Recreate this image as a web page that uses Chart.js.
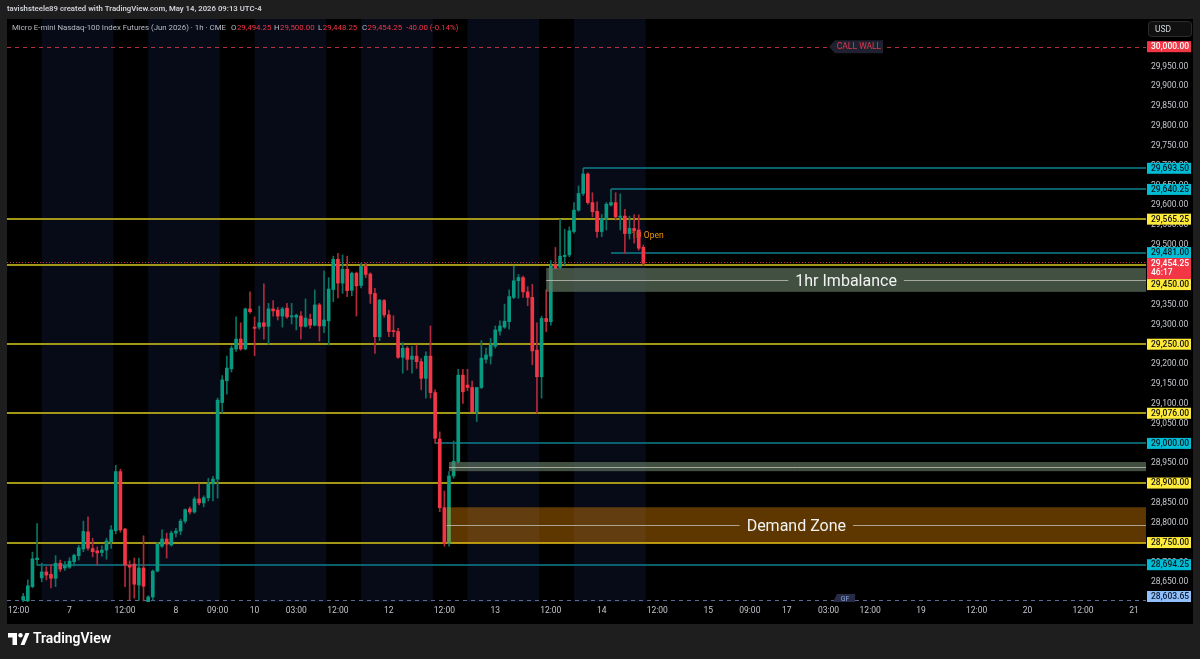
<!DOCTYPE html>
<html>
<head>
<meta charset="utf-8">
<script src="https://cdn.jsdelivr.net/npm/chart.js@4.4.1/dist/chart.umd.min.js"></script>
<style>
  html, body { margin: 0; padding: 0; background: #1e1e1e; }
  #wrap { width: 1200px; height: 659px; }
</style>
</head>
<body>
<div id="wrap"><canvas id="chart" width="1200" height="659"></canvas></div>
<script>
// MNQ1! 1h candles. bar 0 = May 7 00:00, 23 bars per session day
const firstBar = -10;
const opens = [
  28605, 28603, 28639, 28707, 28661, 28676, 28670, 28660, 28698, 28686,
  28688, 28702, 28717, 28734, 28777, 28735, 28729, 28725, 28731, 28752,
  28780, 28929, 28784, 28693, 28696, 28643, 28686, 28600, 28613, 28678,
  28741, 28759, 28744, 28774, 28779, 28804, 28835, 28827, 28860, 28850,
  28863, 28898, 28910, 29103, 29158, 29188, 29238, 29263, 29238, 29339,
  29293, 29293, 29304, 29295, 29339, 29336, 29321, 29341, 29319, 29318,
  29321, 29295, 29313, 29298, 29349, 29296, 29309, 29388, 29464, 29404,
  29439, 29386, 29429, 29398, 29446, 29427, 29378, 29269, 29360, 29324,
  29284, 29282, 29217, 29240, 29212, 29220, 29206, 29164, 29220, 29128,
  29011, 28838, 28748, 28918, 28954, 29172, 29147, 29141, 29080, 29141,
  29212, 29220, 29245, 29283, 29293, 29307, 29368, 29410, 29418, 29382,
  29368, 29235, 29168, 29315, 29307, 29450, 29444, 29471, 29475, 29534,
  29588, 29630, 29679, 29607, 29585, 29534, 29567, 29601, 29607, 29570,
  29573, 29529, 29542, 29538, 29494.25
];
const highs = [
  28622, 28656, 28726, 28798, 28698, 28689, 28695, 28717, 28706, 28702,
  28712, 28721, 28743, 28804, 28815, 28761, 28739, 28742, 28761, 28793,
  28945, 28935, 28786, 28704, 28711, 28711, 28767, 28616, 28681, 28751,
  28782, 28774, 28779, 28786, 28809, 28835, 28840, 28865, 28898, 28868,
  28912, 28917, 29114, 29171, 29220, 29246, 29319, 29304, 29341, 29382,
  29319, 29346, 29402, 29353, 29360, 29343, 29343, 29353, 29353, 29326,
  29332, 29364, 29326, 29387, 29353, 29435, 29418, 29472, 29479, 29475,
  29472, 29432, 29432, 29454, 29454, 29430, 29391, 29363, 29363, 29336,
  29322, 29290, 29254, 29244, 29244, 29248, 29214, 29231, 29296, 29135,
  29029, 28880, 28929, 29006, 29187, 29187, 29187, 29157, 29141, 29259,
  29240, 29265, 29296, 29309, 29351, 29387, 29447, 29426, 29422, 29395,
  29401, 29304, 29321, 29387, 29461, 29494, 29565, 29540, 29546, 29607,
  29649, 29693.5, 29682, 29632, 29609, 29577, 29607, 29640.25, 29632, 29629,
  29590, 29573, 29576, 29576, 29500
];
const lows = [
  28595, 28598, 28636, 28693, 28651, 28656, 28636, 28639, 28677, 28680,
  28685, 28691, 28706, 28727, 28731, 28714, 28693, 28716, 28708, 28735,
  28772, 28776, 28639, 28605, 28610, 28605, 28603, 28590, 28605, 28676,
  28738, 28711, 28741, 28764, 28770, 28799, 28822, 28824, 28845, 28840,
  28855, 28855, 28862, 29077, 29124, 29180, 29232, 29235, 29236, 29328,
  29221, 29288, 29263, 29250, 29321, 29311, 29293, 29315, 29301, 29286,
  29263, 29293, 29290, 29296, 29258, 29279, 29248, 29357, 29367, 29378,
  29370, 29372, 29321, 29392, 29418, 29353, 29227, 29259, 29318, 29269,
  29269, 29214, 29177, 29185, 29177, 29189, 29135, 29114, 29114, 29000,
  28828, 28741, 28741, 28912, 28950, 29101, 29133, 29080, 29055, 29138,
  29202, 29200, 29240, 29273, 29290, 29288, 29365, 29366, 29368, 29347,
  29198, 29076, 29114, 29282, 29298, 29440, 29440, 29450, 29470, 29530,
  29585, 29625, 29603, 29571, 29519, 29521, 29538, 29598, 29563, 29538,
  29479, 29515, 29505, 29487, 29448.25
];
const closes = [
  28614, 28641, 28709, 28711, 28676, 28668, 28660, 28698, 28683, 28692,
  28703, 28718, 28737, 28778, 28736, 28727, 28724, 28731, 28754, 28782,
  28929, 28782, 28693, 28688, 28645, 28686, 28640, 28613, 28678, 28746,
  28759, 28746, 28774, 28779, 28804, 28833, 28827, 28860, 28850, 28863,
  28898, 28910, 29109, 29160, 29190, 29240, 29263, 29238, 29339, 29332,
  29290, 29304, 29295, 29339, 29334, 29321, 29339, 29319, 29321, 29323,
  29295, 29316, 29298, 29349, 29296, 29311, 29389, 29464, 29404, 29439,
  29385, 29429, 29397, 29446, 29426, 29377, 29269, 29361, 29324, 29282,
  29282, 29217, 29240, 29212, 29220, 29206, 29164, 29220, 29128, 29013,
  28838, 28748, 28918, 28955, 29172, 29130, 29141, 29080, 29141, 29215,
  29223, 29248, 29286, 29296, 29308, 29370, 29410, 29418, 29382, 29368,
  29233, 29168, 29315, 29307, 29447, 29441, 29472, 29474, 29536, 29588,
  29630, 29679, 29607, 29584, 29534, 29567, 29603, 29607, 29571, 29573,
  29529, 29542, 29536, 29492, 29454.25
];

// time axis
const tickBars = [-11, 0, 12, 23, 32, 40, 49, 58, 69, 81, 92, 104, 115, 127, 138, 147, 155, 164, 173, 184, 196, 207, 219, 230];
const tickLabels = ['12:00', '7', '12:00', '8', '09:00', '10', '03:00', '12:00', '12', '12:00', '13', '12:00', '14', '12:00', '15', '09:00', '17', '03:00', '12:00', '19', '12:00', '20', '12:00', '21'];
const priceTicks = [28650, 28700, 28750, 28800, 28850, 28900, 28950, 29000, 29050, 29100, 29150, 29200, 29250, 29300, 29350, 29400, 29450, 29500, 29550, 29600, 29650, 29700, 29750, 29800, 29850, 29900, 29950];

// extended-hours session shading (18:00 -> 09:30)
const sessionStart = [-6, 17, 40, 63, 86, 109];
const sessionEnd = [9.5, 32.5, 55.5, 78.5, 101.5, 124.5];

// drawn levels
const yellowLevels = [29565.25, 29450, 29250, 29076, 28900, 28750];
const cyanLevels = [29693.5, 29640.25, 29481, 29000, 28694.25];
const cyanFrom = [111, 117, 117, 79, -7];
const callWall = 30000;
const gammaFlip = 28603.65;
const lastPrice = 29454.25;

// zones
const zoneTop = [29442, 28953, 28839];
const zoneBottom = [29382, 28930, 28748];
const zoneMid = [29412, 28941.5, 28794];
const zoneFrom = [103, 82, 81.5];
const zoneNames = ['1hr Imbalance', '', 'Demand Zone'];

const bars = opens.map((o, k) => firstBar + k);
const up = opens.map((o, k) => closes[k] >= o);

const fmt = (v) => v.toLocaleString('en-US', { minimumFractionDigits: 2, maximumFractionDigits: 2 });

const uiFont = 'Roboto';
const uiSize = 8.5;

function fitFont(ctx, text, width, weight, family) {
  ctx.font = `${weight} 10px ${family}`;
  const size = 10 * width / ctx.measureText(text).width;
  ctx.font = `${weight} ${size.toFixed(2)}px ${family}`;
  return size;
}

function hline(ctx, x0, x1, yy) {
  ctx.beginPath(); ctx.moveTo(x0, yy); ctx.lineTo(x1, yy); ctx.stroke();
}

const tvPlugin = {
  id: 'tv',
  beforeDraw(chart) {
    const { ctx, chartArea: a, scales: { x } } = chart;
    ctx.save();
    ctx.fillStyle = '#1e1e1e';
    ctx.fillRect(0, 0, 1200, 659);
    ctx.fillStyle = '#000000';
    ctx.fillRect(7, 19, 1186, 605);
    ctx.fillStyle = '#070b18';
    sessionStart.forEach((s, k) => {
      const x0 = Math.max(x.getPixelForValue(s), a.left);
      const x1 = x.getPixelForValue(sessionEnd[k]);
      ctx.fillRect(x0, a.top, x1 - x0, a.bottom - a.top);
    });
    ctx.restore();
  },
  beforeDatasetsDraw(chart) {
    const { ctx, chartArea: a, scales: { x, y } } = chart;
    ctx.save();
    ctx.beginPath();
    ctx.rect(a.left, a.top, a.right - a.left, a.bottom - a.top);
    ctx.clip();
    ctx.lineWidth = 1;

    // call wall + gamma flip dashed
    ctx.setLineDash([4, 4]);
    ctx.strokeStyle = '#b8303f';
    hline(ctx, a.left, a.right, Math.round(y.getPixelForValue(callWall)) + 0.5);
    ctx.strokeStyle = '#5b6d94';
    hline(ctx, a.left, a.right, Math.round(y.getPixelForValue(gammaFlip)) - 0.5);

    // last price dotted
    ctx.setLineDash([1, 2]);
    ctx.strokeStyle = '#c93041';
    hline(ctx, a.left, a.right, Math.round(y.getPixelForValue(lastPrice)) - 0.5);
    ctx.setLineDash([]);

    ctx.lineWidth = 2;
    ctx.strokeStyle = '#a39717';
    yellowLevels.forEach((v) => hline(ctx, a.left, a.right, Math.round(y.getPixelForValue(v))));
    ctx.lineWidth = 1.6;
    ctx.strokeStyle = '#0e7f8e';
    cyanLevels.forEach((v, k) => hline(ctx, x.getPixelForValue(cyanFrom[k]), a.right, Math.round(y.getPixelForValue(v))));

    ctx.fillStyle = '#f0940a';
    ctx.font = `${uiSize}px ${uiFont}`;
    ctx.textBaseline = 'middle';
    ctx.fillText('1D Open', x.getPixelForValue(121.4), y.getPixelForValue(29522));
    ctx.restore();
  },
  afterDatasetsDraw(chart) {
    const { ctx, chartArea: a, scales: { x, y } } = chart;
    const fills = ['rgba(100,122,98,0.66)', 'rgba(100,122,98,0.66)', 'rgba(255,150,0,0.37)'];
    ctx.save();
    zoneTop.forEach((t, k) => {
      const x0 = x.getPixelForValue(zoneFrom[k]);
      const y0 = y.getPixelForValue(t);
      const y1 = y.getPixelForValue(zoneBottom[k]);
      ctx.fillStyle = fills[k];
      ctx.fillRect(x0, y0, a.right - x0, y1 - y0);
      const my = Math.round(y.getPixelForValue(zoneMid[k])) + 0.5;
      const cx = (x0 + a.right) / 2;
      ctx.strokeStyle = 'rgba(200,200,190,0.75)';
      ctx.lineWidth = 1;
      if (zoneNames[k]) {
        ctx.font = '16px Roboto';
        const w = ctx.measureText(zoneNames[k]).width;
        hline(ctx, x0, cx - w / 2 - 7, my);
        hline(ctx, cx + w / 2 + 7, a.right, my);
        ctx.fillStyle = '#f2f2f2';
        ctx.textAlign = 'center';
        ctx.textBaseline = 'middle';
        ctx.fillText(zoneNames[k], cx, my + 1);
      } else {
        hline(ctx, x0, a.right, my);
      }
    });
    ctx.restore();
  },
  afterDraw(chart) {
    const { ctx, chartArea: a, scales: { y } } = chart;
    ctx.save();
    ctx.textBaseline = 'middle';

    // top credit line
    const credit = 'tavishsteele89 created with TradingView.com, May 14, 2026 09:13 UTC-4';
    ctx.fillStyle = '#cfd2d8';
    fitFont(ctx, credit, 255, '600', 'Roboto');
    ctx.fillText(credit, 7, 9.5);

    // legend
    const title = 'Micro E-mini Nasdaq-100 Index Futures (Jun 2026) · 1h · CME';
    ctx.fillStyle = '#b8bbc2';
    fitFont(ctx, title, 214, '400', uiFont);
    ctx.fillText(title, 12, 28);
    const parts = [['O', '#b8bbc2', 231], ['29,494.25', '#f23645'], ['H', '#b8bbc2', 274], ['29,500.00', '#f23645'],
      ['L', '#b8bbc2', 318], ['29,448.25', '#f23645'], ['C', '#b8bbc2', 362], ['29,454.25  -40.00 (-0.14%)', '#f23645']];
    let cx = 0;
    parts.forEach((p) => {
      if (p[2]) cx = p[2];
      ctx.fillStyle = p[1];
      ctx.fillText(p[0], cx, 28);
      cx += ctx.measureText(p[0]).width + 0.5;
    });

    // right-side price tags
    const tags = [];
    tags.push({ v: callWall, bg: '#f23645', fg: '#ffffff' });
    cyanLevels.forEach((v) => tags.push({ v, bg: '#00bcd4', fg: '#0a1a20' }));
    yellowLevels.forEach((v) => tags.push({ v, bg: '#ffeb3b', fg: '#111111' }));
    tags.push({ v: gammaFlip, bg: '#90bff9', fg: '#0b1a33' });
    tags.push({ v: lastPrice, bg: '#f23645', fg: '#ffffff', sub: '46:17' });
    tags.forEach((t) => { t.py = y.getPixelForValue(t.v); t.h = t.sub ? 21 : 11; t.top = t.sub ? t.py - 6.5 : t.py - 5.5; });
    tags.sort((p, q) => p.py - q.py);
    let prev = 0;
    tags.forEach((t) => {
      t.top = Math.max(t.top, prev);
      t.top = Math.min(t.top, a.bottom - t.h);
      prev = t.top + t.h;
    });
    ctx.font = `500 ${uiSize}px ${uiFont}`;
    ctx.textAlign = 'left';
    tags.forEach((t) => {
      ctx.fillStyle = t.bg;
      ctx.fillRect(1147, t.top, 44, t.h);
      ctx.fillStyle = t.fg;
      ctx.fillText(fmt(t.v), 1151, t.top + 5.8);
      if (t.sub) ctx.fillText(t.sub, 1151, t.top + 14.8);
    });

    // CALL WALL tag
    const wy = y.getPixelForValue(callWall);
    ctx.fillStyle = '#1f2130';
    ctx.beginPath();
    ctx.moveTo(829, wy); ctx.lineTo(835, wy - 6.5); ctx.lineTo(883, wy - 6.5); ctx.lineTo(883, wy + 6.5); ctx.lineTo(835, wy + 6.5);
    ctx.closePath(); ctx.fill();
    ctx.fillStyle = '#e23a4b';
    ctx.font = `${uiSize}px ${uiFont}`;
    ctx.textAlign = 'center';
    ctx.fillText('CALL WALL', 859, wy + 0.5);

    // GF tag
    ctx.fillStyle = '#262c46';
    ctx.beginPath();
    ctx.moveTo(833, a.bottom); ctx.lineTo(837, a.bottom - 8); ctx.lineTo(855, a.bottom - 8); ctx.lineTo(855, a.bottom);
    ctx.closePath(); ctx.fill();
    ctx.fillStyle = '#8ea6db';
    ctx.font = `7px ${uiFont}`;
    ctx.fillText('GF', 845, a.bottom - 3);

    // USD button
    ctx.fillStyle = '#101010';
    ctx.strokeStyle = '#2c2c2c';
    ctx.beginPath();
    ctx.roundRect(1148.5, 21.5, 43, 15, 3);
    ctx.fill(); ctx.stroke();
    ctx.fillStyle = '#d1d4dc';
    ctx.font = `${uiSize}px ${uiFont}`;
    ctx.textAlign = 'left';
    ctx.fillText('USD', 1155, 29.5);

    // TradingView logo
    ctx.fillStyle = '#ffffff';
    ctx.fillRect(8, 633, 9, 4.5);
    ctx.fillRect(12.5, 633, 4.5, 12);
    ctx.beginPath(); ctx.arc(20.5, 635.3, 2.2, 0, Math.PI * 2); ctx.fill();
    ctx.beginPath();
    ctx.moveTo(20.5, 645); ctx.lineTo(25.5, 633); ctx.lineTo(29.5, 633); ctx.lineTo(24.5, 645);
    ctx.closePath(); ctx.fill();
    fitFont(ctx, 'TradingView', 78, '600', 'Roboto');
    ctx.fillText('TradingView', 33, 639.5);
    ctx.restore();
  }
};

new Chart(document.getElementById('chart'), {
  type: 'bar',
  data: {
    datasets: [
      {
        label: 'body',
        data: bars.map((b, k) => ({ x: b, y: [opens[k], closes[k]] })),
        backgroundColor: up.map((u) => (u ? '#089981' : '#f23645')),
        barThickness: 3,
        minBarLength: 1,
        grouped: false,
        order: 0
      },
      {
        label: 'wick',
        data: bars.map((b, k) => ({ x: b, y: [lows[k], highs[k]] })),
        backgroundColor: up.map((u) => (u ? '#0b7364' : '#b02a3a')),
        barThickness: 1,
        grouped: false,
        order: 1
      }
    ]
  },
  options: {
    responsive: false,
    devicePixelRatio: 1,
    animation: false,
    layout: { padding: { left: 7, top: 19, right: 7, bottom: 37 } },
    plugins: { legend: { display: false }, tooltip: { enabled: false } },
    scales: {
      x: {
        type: 'linear',
        min: -13.5,
        max: 232.6,
        offset: false,
        grid: { display: false, drawTicks: false },
        border: { display: false },
        afterBuildTicks: (s) => { s.ticks = tickBars.map((v) => ({ value: v })); },
        afterFit: (s) => { s.height = 20; },
        ticks: {
          autoSkip: false,
          maxRotation: 0,
          minRotation: 0,
          padding: 4,
          color: '#c3c6cc',
          font: { family: uiFont, size: uiSize },
          callback: (v) => { const k = tickBars.indexOf(v); return k >= 0 ? tickLabels[k] : ''; }
        }
      },
      y: {
        type: 'linear',
        position: 'right',
        min: 28600.2,
        max: 30069.8,
        grid: { display: false, drawTicks: false },
        border: { display: false },
        afterBuildTicks: (s) => { s.ticks = priceTicks.map((v) => ({ value: v })); },
        afterFit: (s) => { s.width = 47; },
        ticks: {
          padding: 5,
          color: '#c3c6cc',
          font: { family: uiFont, size: uiSize },
          callback: (v) => fmt(v)
        }
      }
    }
  },
  plugins: [tvPlugin]
});
</script>
</body>
</html>
